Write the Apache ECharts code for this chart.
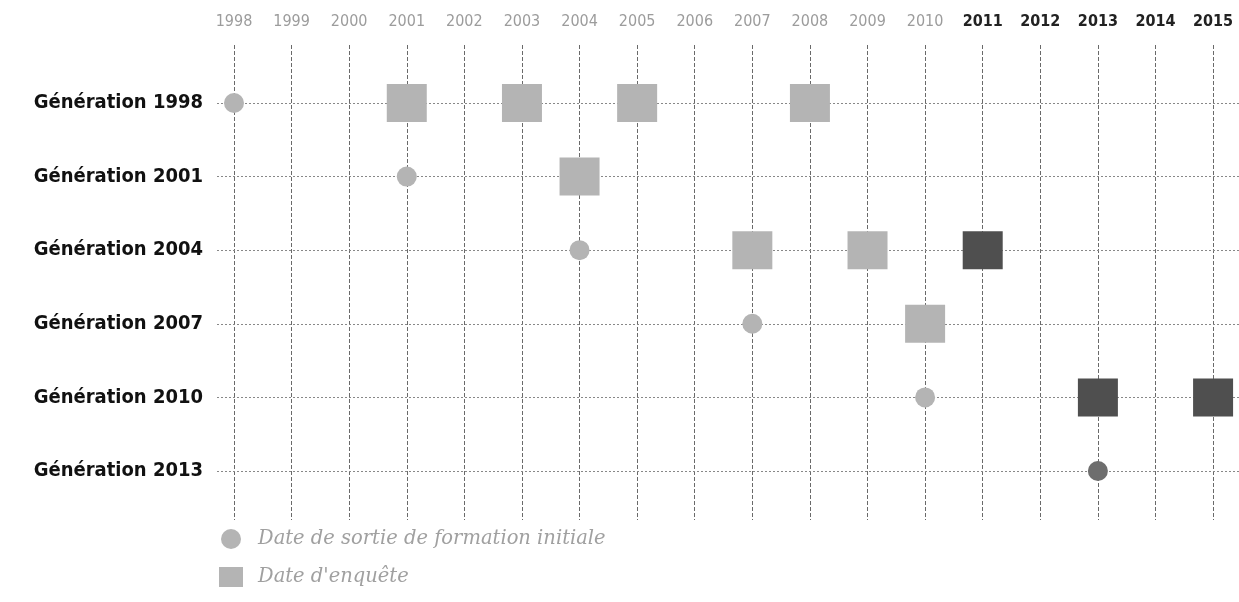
<!DOCTYPE html>
<html>
<head>
<meta charset="utf-8">
<script src="https://cdn.jsdelivr.net/npm/echarts@6/dist/echarts.min.js"></script>
<style>
  html, body { margin: 0; padding: 0; background: #fff; }
  #main { width: 1239px; height: 602px; }
</style>
</head>
<body>
<div id="main"></div>
<script>
var years = [1998, 1999, 2000, 2001, 2002, 2003, 2004, 2005, 2006, 2007, 2008, 2009, 2010, 2011, 2012, 2013, 2014, 2015];
var generations = ['Génération 1998', 'Génération 2001', 'Génération 2004', 'Génération 2007', 'Génération 2010', 'Génération 2013'];
// date de sortie de formation initiale, par génération
var exitYears = [1998, 2001, 2004, 2007, 2010, 2013];
var exitDark = [false, false, false, false, false, true];
// dates d'enquête, par génération
var surveyYears = [
    [2001, 2003, 2005, 2008],
    [2004],
    [2007, 2009, 2011],
    [2010],
    [2013, 2015],
    []
];
var surveyDark = [
    [false, false, false, false],
    [false],
    [false, false, true],
    [false],
    [true, true],
    []
];
var darkFrom = 2011;

var lightGray = '#b4b4b4';
var darkGray = '#4f4f4f';
var narrow = "'Liberation Sans Narrow', 'DejaVu Sans Condensed', sans-serif";

var myChart = echarts.init(document.getElementById('main'));

var exitData = [];
for (var i = 0; i < exitYears.length; i++) {
    var p = { value: [exitYears[i], i] };
    if (exitDark[i]) p.itemStyle = { color: '#6e6e6e' };
    exitData.push(p);
}
var surveyData = [];
for (var g = 0; g < surveyYears.length; g++) {
    for (var k = 0; k < surveyYears[g].length; k++) {
        var s = { value: [surveyYears[g][k], g] };
        if (surveyDark[g][k]) s.itemStyle = { color: darkGray };
        surveyData.push(s);
    }
}
var vLines = years.map(function (y) { return { xAxis: y }; });
var hLines = generations.map(function (n, i) { return { yAxis: i }; });

var option = {
    animation: false,
    grid: { left: 217, right: 0, top: 45, bottom: 82 },
    legend: {
        orient: 'vertical',
        left: 214,
        top: 524,
        itemWidth: 24,
        itemHeight: 20,
        itemGap: 18,
        textStyle: { fontFamily: "'DejaVu Serif', serif", fontStyle: 'italic', fontSize: 19.5, color: '#a0a0a0', padding: [0, 0, 0, 10] },
        data: [
            { name: 'Date de sortie de formation initiale', icon: 'circle' },
            { name: "Date d'enquête", icon: 'rect' }
        ]
    },
    xAxis: {
        type: 'value',
        position: 'top',
        min: 1997.705,
        max: 2015.45,
        axisLine: { show: false },
        axisTick: { show: false },
        splitLine: { show: false },
        axisLabel: {
            customValues: years,
            margin: 15,
            fontFamily: narrow,
            fontSize: 16,
            formatter: function (v) {
                return v >= darkFrom ? '{d|' + v + '}' : '{l|' + v + '}';
            },
            rich: {
                l: { color: '#9c9c9c', fontFamily: narrow, fontSize: 16 },
                d: { color: '#222', fontFamily: narrow, fontSize: 16, fontWeight: 'bold' }
            }
        }
    },
    yAxis: {
        type: 'value',
        inverse: true,
        min: -0.788,
        max: 5.666,
        axisLine: { show: false },
        axisTick: { show: false },
        splitLine: { show: false },
        axisLabel: {
            customValues: [0, 1, 2, 3, 4, 5],
            margin: 14,
            color: '#111',
            fontFamily: narrow,
            fontWeight: 'bold',
            fontSize: 20,
            formatter: function (v) { return generations[v] || ''; }
        }
    },
    series: [
        {
            name: 'grille',
            type: 'line',
            data: [],
            silent: true,
            markLine: {
                silent: true,
                symbol: 'none',
                label: { show: false },
                lineStyle: { color: '#6a6a6a', width: 1, type: [4, 2] },
                data: vLines
            }
        },
        {
            name: 'lignes',
            type: 'line',
            data: [],
            silent: true,
            markLine: {
                silent: true,
                symbol: 'none',
                label: { show: false },
                lineStyle: { color: '#888', width: 1, type: [2, 2] },
                data: hLines
            }
        },
        {
            name: "Date d'enquête",
            type: 'scatter',
            symbol: 'rect',
            symbolSize: [40, 38],
            itemStyle: { color: lightGray, opacity: 1 },
            z: 5,
            data: surveyData
        },
        {
            name: 'Date de sortie de formation initiale',
            type: 'scatter',
            symbol: 'circle',
            symbolSize: 20,
            itemStyle: { color: lightGray, opacity: 1 },
            z: 6,
            data: exitData
        }
    ]
};
myChart.setOption(option);
</script>
</body>
</html>
